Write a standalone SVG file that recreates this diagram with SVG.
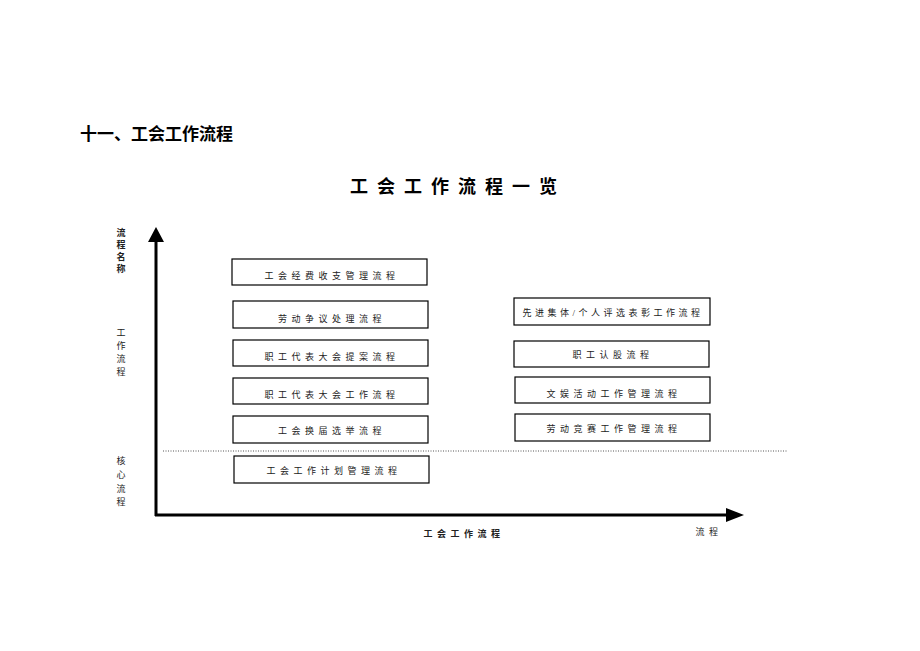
<svg xmlns="http://www.w3.org/2000/svg" width="920" height="651" viewBox="0 0 920 651">
<style>
text{font-family:"Liberation Serif","Noto Sans CJK SC",serif;fill:#000}
.b{fill:#fff;stroke:#000;stroke-width:1.2}
.t{font-size:9px;letter-spacing:4.5px;text-anchor:middle;fill:#222}
.s{font-size:9px;text-anchor:middle;fill:#222}
</style>
<rect width="920" height="651" fill="#fff"/>
<text x="80" y="140" font-size="17" font-weight="bold" font-family="'Noto Sans CJK SC',sans-serif">十一、工会工作流程</text>
<text x="458" y="193" font-size="18" font-weight="bold" text-anchor="middle" letter-spacing="9" font-family="'Noto Sans CJK SC',sans-serif">工会工作流程一览</text>
<g id="ylabels">
<text class="s" x="121" y="236" font-weight="bold">流</text><text class="s" x="121" y="248" font-weight="bold">程</text><text class="s" x="121" y="260" font-weight="bold">名</text><text class="s" x="121" y="272" font-weight="bold">称</text>
<text class="s" x="121" y="336">工</text><text class="s" x="121" y="349">作</text><text class="s" x="121" y="362">流</text><text class="s" x="121" y="375">程</text>
<text class="s" x="121" y="464">核</text><text class="s" x="121" y="478">心</text><text class="s" x="121" y="492">流</text><text class="s" x="121" y="505">程</text>
</g>
<g id="connectors">
<path d="M156,516V240" stroke="#000" stroke-width="3"/>
<path d="M148,242L156,227L164,242z"/>
<path d="M155,515H728" stroke="#000" stroke-width="3"/>
<path d="M726,508L744,515L726,522z"/>
<line x1="163" y1="451" x2="787" y2="451" stroke="#555" stroke-dasharray="1,1.5"/>
</g>
<text class="t" x="464" y="537" font-weight="bold">工会工作流程</text>
<text class="t" x="709" y="535">流程</text>
<g id="n1"><rect class="b" x="232" y="259" width="195" height="26"/><text class="t" x="332" y="279">工会经费收支管理流程</text></g>
<g id="n2"><rect class="b" x="233" y="301" width="195" height="27"/><text class="t" x="332" y="322">劳动争议处理流程</text></g>
<g id="n3"><rect class="b" x="233" y="340" width="195" height="26"/><text class="t" x="332" y="360">职工代表大会提案流程</text></g>
<g id="n4"><rect class="b" x="233" y="378" width="195" height="26"/><text class="t" x="332" y="398">职工代表大会工作流程</text></g>
<g id="n5"><rect class="b" x="233" y="416" width="195" height="27"/><text class="t" x="332" y="434">工会换届选举流程</text></g>
<g id="n6"><rect class="b" x="234" y="456" width="195" height="27"/><text class="t" x="334" y="474">工会工作计划管理流程</text></g>
<g id="n7"><rect class="b" x="514" y="298" width="196" height="27"/><text class="t" x="613" y="316" style="letter-spacing:3.5px">先进集体/个人评选表彰工作流程</text></g>
<g id="n8"><rect class="b" x="514" y="341" width="195" height="26"/><text class="t" x="613" y="358">职工认股流程</text></g>
<g id="n9"><rect class="b" x="515" y="377" width="195" height="26"/><text class="t" x="614" y="397">文娱活动工作管理流程</text></g>
<g id="n10"><rect class="b" x="515" y="414" width="195" height="27"/><text class="t" x="614" y="432">劳动竞赛工作管理流程</text></g>
</svg>
